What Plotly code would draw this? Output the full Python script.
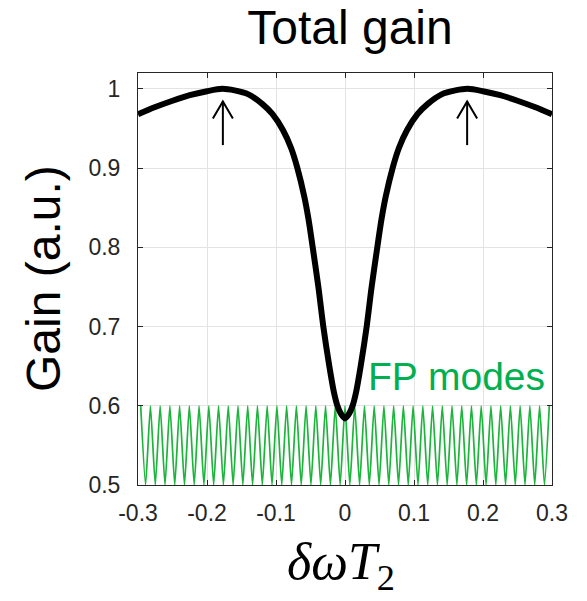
import plotly.graph_objects as go

# Total gain vs normalised detuning (read at sample points, symmetric about 0)
detuning_half = [0.0, 0.006, 0.011, 0.016, 0.0227, 0.0314, 0.0386, 0.0468, 0.053,
                 0.059, 0.069, 0.078, 0.09, 0.105, 0.12, 0.14, 0.16, 0.178, 0.2,
                 0.225, 0.25, 0.275, 0.3]
gain_half = [0.584, 0.590, 0.600, 0.617, 0.650, 0.700, 0.750, 0.800, 0.836,
             0.864, 0.900, 0.925, 0.948, 0.968, 0.981, 0.993, 0.998, 1.000, 0.997,
             0.992, 0.985, 0.977, 0.968]

# Fabry-Perot comb drawn underneath
fp_spacing = 0.0141
fp_top = 0.6
fp_floor = 0.5

# Gain maxima marked by arrows
arrow_x = [-0.177, 0.177]
arrow_base = 0.929
arrow_tip = 0.984

x_ticks = [-0.3, -0.2, -0.1, 0, 0.1, 0.2, 0.3]
x_tick_text = ["-0.3", "-0.2", "-0.1", "0", "0.1", "0.2", "0.3"]
y_ticks = [0.5, 0.6, 0.7, 0.8, 0.9, 1.0]
y_tick_text = ["0.5", "0.6", "0.7", "0.8", "0.9", "1"]

x_range = [-0.3, 0.3]
y_range = [0.5, 1.02]

# full symmetric curve
gain_x = [-v for v in detuning_half[:0:-1]] + detuning_half
gain_y = gain_half[:0:-1] + gain_half

# comb: peaks every fp_spacing, troughs halfway between
n_modes = int(round(x_range[1] / fp_spacing))
comb_x, comb_y = [], []
for k in range(-n_modes, n_modes + 1):
    comb_x.append(k * fp_spacing)
    comb_y.append(fp_top)
    if k < n_modes:
        comb_x.append((k + 0.5) * fp_spacing)
        comb_y.append(fp_floor)

# layout geometry
W, H = 587, 601
m_l, m_r, m_t, m_b = 138, 35, 73, 116
plot_w = W - m_l - m_r
plot_h = H - m_t - m_b
px_x = plot_w / (x_range[1] - x_range[0])
px_y = plot_h / (y_range[1] - y_range[0])
head_dx = 10 / px_x
head_dy = 17 / px_y

arr_x, arr_y = [], []
for ax in arrow_x:
    arr_x += [ax, ax, None, ax - head_dx, ax, ax + head_dx, None]
    arr_y += [arrow_base, arrow_tip, None, arrow_tip - head_dy, arrow_tip, arrow_tip - head_dy, None]

green = "#00B050"
fig = go.Figure()
fig.add_trace(go.Scatter(x=comb_x, y=comb_y, mode="lines",
                         line=dict(color="#1DB43C", width=1.7, shape="spline", smoothing=0.5),
                         hoverinfo="skip"))
fig.add_trace(go.Scatter(x=gain_x, y=gain_y, mode="lines",
                         line=dict(color="black", width=6, shape="spline", smoothing=0.8)))
fig.add_trace(go.Scatter(x=arr_x, y=arr_y, mode="lines",
                         line=dict(color="black", width=2)))

font_main = "Liberation Sans, Arial, sans-serif"
axis_common = dict(
    showline=True, linecolor="#262626", linewidth=1, mirror="ticks",
    ticks="inside", ticklen=5, tickcolor="#262626",
    showgrid=True, gridcolor="#E3E3E3", gridwidth=1, zeroline=False,
    tickfont=dict(family=font_main, size=23, color="#262626"),
)
fig.update_xaxes(range=x_range, tickvals=x_ticks, ticktext=x_tick_text,
                 ticklabelstandoff=7, **axis_common)
fig.update_yaxes(range=y_range, tickvals=y_ticks, ticktext=y_tick_text,
                 ticklabelstandoff=12, **axis_common)

fig.add_annotation(text="FP modes", x=0.031, y=0.637, xref="x", yref="y",
                   xanchor="left", yanchor="middle", showarrow=False,
                   font=dict(family=font_main, size=39, color=green))
fig.add_annotation(text="Gain (a.u.)", x=0, y=0.5, xref="paper", yref="paper",
                   xshift=-95, textangle=-90, xanchor="center", yanchor="middle",
                   showarrow=False, font=dict(family=font_main, size=48, color="black"))
fig.add_annotation(text="<i>δωT</i><sub>2</sub>", x=0.5, y=0, xref="paper", yref="paper",
                   xshift=-4, yshift=-80, xanchor="center", yanchor="middle", showarrow=False,
                   font=dict(family="Liberation Serif, DejaVu Serif, serif", size=52, color="black"))

fig.update_layout(
    width=W, height=H,
    margin=dict(l=m_l, r=m_r, t=m_t, b=m_b, autoexpand=False),
    paper_bgcolor="white", plot_bgcolor="white",
    showlegend=False,
    title=dict(text="Total gain", x=0.5962, xanchor="center", y=0.955, yanchor="middle",
               yref="container", font=dict(family=font_main, size=48, color="black")),
)

fig.write_html("out.html")
